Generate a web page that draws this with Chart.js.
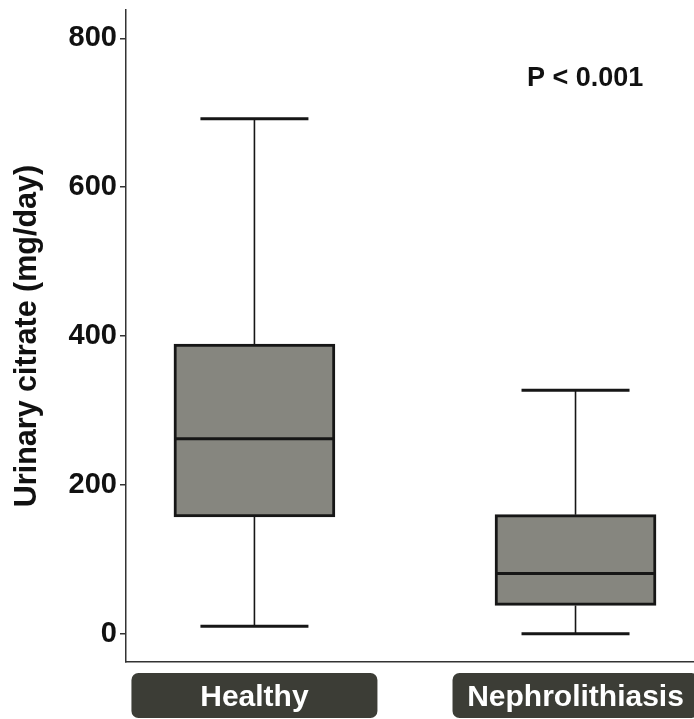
<!DOCTYPE html>
<html lang="en">
<head>
    <meta charset="UTF-8">
    <script src="https://cdn.jsdelivr.net/npm/chart.js@4.4.1/dist/chart.umd.min.js"></script>
    <title>Urinary citrate</title>
    <style>
        html, body { margin: 0; padding: 0; background: #fff; }
        #wrap { width: 694px; height: 719px; }
    </style>
</head>
<body>
    <div id="wrap">
        <canvas id="myChart" width="694" height="719"></canvas>
    </div>
    <script>
        // groups and their box plot values (mg/day)
        const groups = ['Healthy', 'Nephrolithiasis'];
        const positions = [0, 1];
        const whiskerLow = [10, 0];
        const q1 = [157, 38];
        const median = [262, 81];
        const q3 = [389, 160];
        const whiskerHigh = [692, 327];
        const yTicks = [0, 200, 400, 600, 800];
        const pText = 'P < 0.001';

        const font = '"Liberation Sans", Arial, Helvetica, sans-serif';
        const boxFill = '#86867f';
        const ink = '#161616';

        // floating bars for the boxes (q1 -> q3)
        const boxData = positions.map((p, i) => ({ x: p, y: [q1[i], q3[i]] }));

        // whiskers, caps and median lines drawn with the chart scales
        const boxPlotLines = {
            id: 'boxPlotLines',
            beforeDatasetsDraw(chart) {
                const ctx = chart.ctx, xs = chart.scales.x, ys = chart.scales.y;
                ctx.save();
                ctx.strokeStyle = ink;
                positions.forEach((p, i) => {
                    const x = xs.getPixelForValue(p);
                    ctx.lineWidth = 1.6;
                    ctx.beginPath();
                    ctx.moveTo(x, ys.getPixelForValue(whiskerHigh[i]));
                    ctx.lineTo(x, ys.getPixelForValue(q3[i]));
                    ctx.moveTo(x, ys.getPixelForValue(q1[i]));
                    ctx.lineTo(x, ys.getPixelForValue(whiskerLow[i]));
                    ctx.stroke();
                    ctx.lineWidth = 3;
                    ctx.beginPath();
                    [whiskerHigh[i], whiskerLow[i]].forEach(v => {
                        const y = ys.getPixelForValue(v);
                        ctx.moveTo(x - 54, y);
                        ctx.lineTo(x + 54, y);
                    });
                    ctx.stroke();
                });
                ctx.restore();
            },
            afterDatasetsDraw(chart) {
                const ctx = chart.ctx, xs = chart.scales.x, ys = chart.scales.y;
                ctx.save();
                ctx.strokeStyle = ink;
                ctx.lineWidth = 3;
                positions.forEach((p, i) => {
                    const x = xs.getPixelForValue(p);
                    const y = ys.getPixelForValue(median[i]);
                    ctx.beginPath();
                    ctx.moveTo(x - 80, y);
                    ctx.lineTo(x + 80, y);
                    ctx.stroke();
                });
                // p value note
                ctx.fillStyle = '#111';
                ctx.font = 'bold 27px ' + font;
                ctx.textAlign = 'center';
                ctx.textBaseline = 'middle';
                ctx.fillText(pText, xs.getPixelForValue(1.03), ys.getPixelForValue(746));
                ctx.restore();
            }
        };

        // dark rounded label plates under the category names
        const labelPlates = {
            id: 'labelPlates',
            beforeDraw(chart) {
                const ctx = chart.ctx, xs = chart.scales.x;
                ctx.save();
                ctx.fillStyle = '#3c3d36';
                positions.forEach(p => {
                    const x = xs.getPixelForValue(p);
                    ctx.beginPath();
                    ctx.roundRect(x - 123, xs.top + 11, 246, 45, 7);
                    ctx.fill();
                });
                ctx.restore();
            }
        };

        var ctx = document.getElementById('myChart').getContext('2d');

        const data = {
            datasets: [{
                label: 'Urinary citrate',
                data: boxData,
                backgroundColor: boxFill,
                borderColor: ink,
                borderWidth: 3,
                borderSkipped: false,
                barThickness: 161
            }]
        };

        var options = {
            responsive: false,
            animation: false,
            layout: { padding: { top: 10, right: 0, left: 0, bottom: 0 } },
            plugins: {
                legend: { display: false },
                tooltip: { enabled: false }
            },
            scales: {
                x: {
                    type: 'linear',
                    offset: false,
                    min: -0.4,
                    max: 1.369,
                    afterBuildTicks: s => { s.ticks = positions.map(v => ({ value: v })); },
                    afterFit: s => { s.height = 57; s.paddingLeft = 0; s.paddingRight = 0; },
                    grid: { display: false, drawTicks: false },
                    border: { display: true, color: '#333', width: 1.5 },
                    ticks: {
                        color: '#fff',
                        padding: 18,
                        maxRotation: 0,
                        autoSkip: false,
                        font: { family: font, size: 30, weight: 'bold' },
                        callback: v => groups[positions.indexOf(v)] || ''
                    }
                },
                y: {
                    min: -38,
                    max: 838,
                    afterBuildTicks: s => { s.ticks = yTicks.map(v => ({ value: v })); },
                    afterFit: s => { s.width = 126; s.paddingTop = 0; s.paddingBottom = 0; },
                    grid: { drawOnChartArea: false, drawTicks: true, tickLength: 6, color: '#333', lineWidth: 1.5 },
                    border: { display: true, color: '#333', width: 1.5 },
                    ticks: {
                        color: '#111',
                        padding: 3,
                        font: { family: font, size: 29, weight: 'bold' }
                    },
                    title: {
                        display: true,
                        text: 'Urinary citrate (mg/day)',
                        color: '#111',
                        padding: { top: 9, bottom: 0 },
                        font: { family: font, size: 30.5, weight: 'bold' }
                    }
                }
            }
        };

        const config = {
            type: 'bar',
            data: data,
            options: options,
            plugins: [labelPlates, boxPlotLines]
        };

        var myChart = new Chart(ctx, config);
    </script>
</body>
</html>
